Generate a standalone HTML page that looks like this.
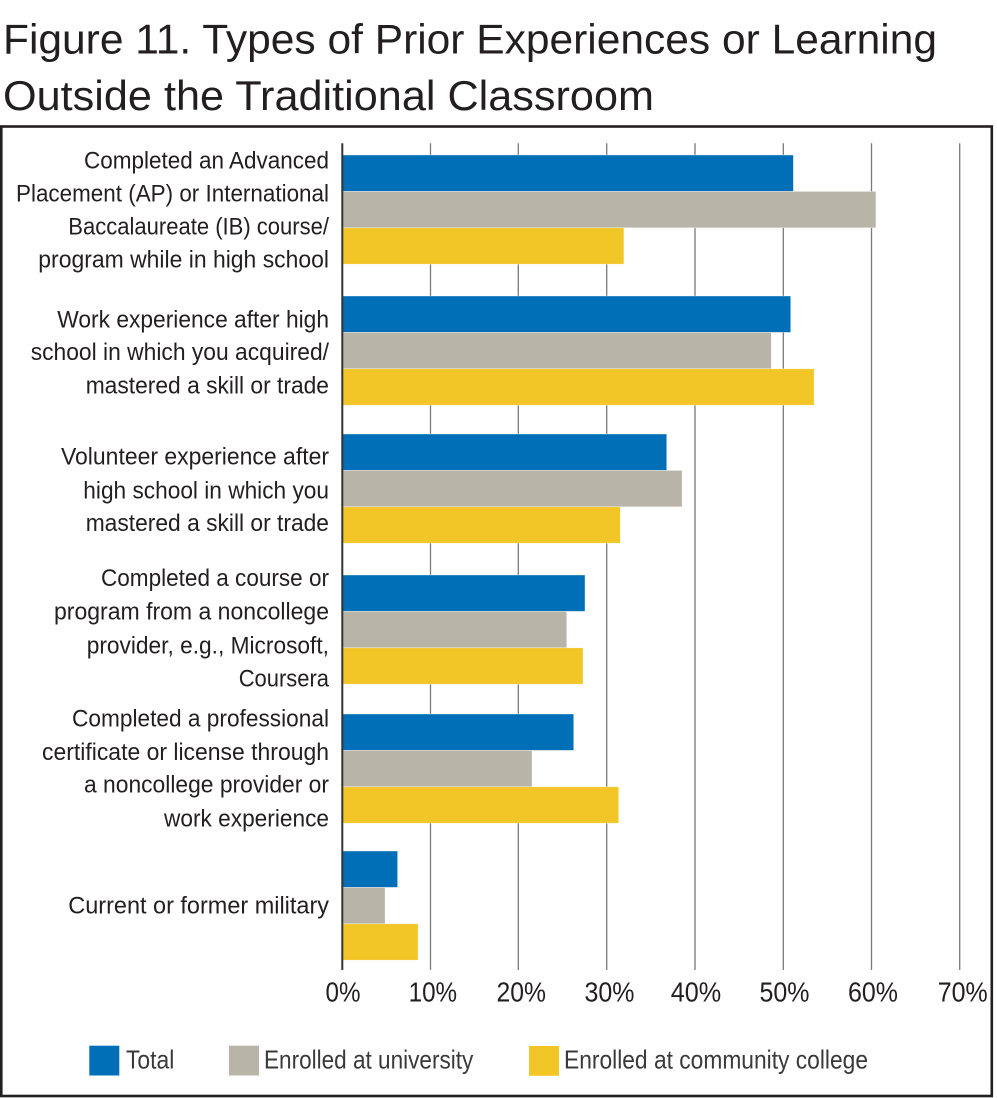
<!DOCTYPE html>
<html>
<head>
<meta charset="utf-8">
<style>
  html, body { margin: 0; padding: 0; background: #ffffff; }
  body { width: 997px; height: 1098px; overflow: hidden; }
  svg { display: block; }
  text { font-family: "Liberation Sans", "DejaVu Sans", sans-serif; }
</style>
</head>
<body>
<svg width="997" height="1098" viewBox="0 0 997 1098" xmlns="http://www.w3.org/2000/svg">
  <rect x="0" y="0" width="997" height="1098" fill="#ffffff"/>

  <!-- Title -->
  <text x="3" y="53.3" font-size="42" fill="#231f20" textLength="934" lengthAdjust="spacingAndGlyphs">Figure 11. Types of Prior Experiences or Learning</text>
  <text x="3" y="110" font-size="42" fill="#231f20" textLength="651" lengthAdjust="spacingAndGlyphs">Outside the Traditional Classroom</text>

  <!-- Frame -->
  <rect x="1.3" y="126.5" width="990.5" height="969.5" fill="none" stroke="#231f20" stroke-width="2.6"/>

  <!-- Gridlines -->
  <g stroke="#7a7a7a" stroke-width="1.3">
    <line x1="430.5" y1="143.3" x2="430.5" y2="970"/>
    <line x1="518.3" y1="143.3" x2="518.3" y2="970"/>
    <line x1="606.7" y1="143.3" x2="606.7" y2="970"/>
    <line x1="695" y1="143.3" x2="695" y2="970"/>
    <line x1="783.3" y1="143.3" x2="783.3" y2="970"/>
    <line x1="871.5" y1="143.3" x2="871.5" y2="970"/>
    <line x1="959.7" y1="143.3" x2="959.7" y2="970"/>
  </g>

  <!-- Bars: x = 342.3 + v*8.827 -->
  <g stroke="#ffffff" stroke-width="0.6" stroke-opacity="0.6">
    <!-- G1 -->
    <rect x="342.3" y="155" width="451.1" height="36.4" fill="#006fb8"/>
    <rect x="342.3" y="191.4" width="533.6" height="36.4" fill="#b8b5a8"/>
    <rect x="342.3" y="227.8" width="281.6" height="36.4" fill="#f3c627"/>
    <!-- G2 -->
    <rect x="342.3" y="296" width="448.4" height="36.4" fill="#006fb8"/>
    <rect x="342.3" y="332.4" width="429.0" height="36.4" fill="#b8b5a8"/>
    <rect x="342.3" y="368.8" width="471.8" height="36.4" fill="#f3c627"/>
    <!-- G3 -->
    <rect x="342.3" y="434" width="324.4" height="36.4" fill="#006fb8"/>
    <rect x="342.3" y="470.4" width="339.8" height="36.4" fill="#b8b5a8"/>
    <rect x="342.3" y="506.8" width="278.0" height="36.4" fill="#f3c627"/>
    <!-- G4 -->
    <rect x="342.3" y="575" width="242.7" height="36.4" fill="#006fb8"/>
    <rect x="342.3" y="611.4" width="224.4" height="36.4" fill="#b8b5a8"/>
    <rect x="342.3" y="647.8" width="240.7" height="36.4" fill="#f3c627"/>
    <!-- G5 -->
    <rect x="342.3" y="714" width="231.4" height="36.4" fill="#006fb8"/>
    <rect x="342.3" y="750.4" width="189.7" height="36.4" fill="#b8b5a8"/>
    <rect x="342.3" y="786.8" width="276.4" height="36.4" fill="#f3c627"/>
    <!-- G6 -->
    <rect x="342.3" y="851" width="55.3" height="36.4" fill="#006fb8"/>
    <rect x="342.3" y="887.4" width="42.8" height="36.4" fill="#b8b5a8"/>
    <rect x="342.3" y="923.8" width="75.8" height="36.4" fill="#f3c627"/>
  </g>

  <!-- Axis line -->
  <line x1="342.3" y1="143.3" x2="342.3" y2="970" stroke="#333333" stroke-width="2"/>

  <!-- Category labels -->
  <g font-size="24.5" fill="#231f20">
    <text x="84" y="168.3" textLength="245" lengthAdjust="spacingAndGlyphs">Completed an Advanced</text>
    <text x="16" y="201.5" textLength="313" lengthAdjust="spacingAndGlyphs">Placement (AP) or International</text>
    <text x="68.3" y="234.5" textLength="260.7" lengthAdjust="spacingAndGlyphs">Baccalaureate (IB) course/</text>
    <text x="38.3" y="267.3" textLength="290.7" lengthAdjust="spacingAndGlyphs">program while in high school</text>

    <text x="57.3" y="327.3" textLength="271.7" lengthAdjust="spacingAndGlyphs">Work experience after high</text>
    <text x="30.7" y="360" textLength="298.3" lengthAdjust="spacingAndGlyphs">school in which you acquired/</text>
    <text x="85.7" y="393.3" textLength="243.3" lengthAdjust="spacingAndGlyphs">mastered a skill or trade</text>

    <text x="61" y="464.3" textLength="268" lengthAdjust="spacingAndGlyphs">Volunteer experience after</text>
    <text x="83.3" y="498.3" textLength="245.7" lengthAdjust="spacingAndGlyphs">high school in which you</text>
    <text x="85.7" y="531" textLength="243.3" lengthAdjust="spacingAndGlyphs">mastered a skill or trade</text>

    <text x="101" y="586" textLength="228" lengthAdjust="spacingAndGlyphs">Completed a course or</text>
    <text x="54" y="619.3" textLength="275" lengthAdjust="spacingAndGlyphs">program from a noncollege</text>
    <text x="86.7" y="653.3" textLength="242.3" lengthAdjust="spacingAndGlyphs">provider, e.g., Microsoft,</text>
    <text x="238.7" y="686.7" textLength="90.3" lengthAdjust="spacingAndGlyphs">Coursera</text>

    <text x="72" y="726.7" textLength="257" lengthAdjust="spacingAndGlyphs">Completed a professional</text>
    <text x="42" y="760" textLength="287" lengthAdjust="spacingAndGlyphs">certificate or license through</text>
    <text x="84" y="792.7" textLength="245" lengthAdjust="spacingAndGlyphs">a noncollege provider or</text>
    <text x="164" y="826.7" textLength="165" lengthAdjust="spacingAndGlyphs">work experience</text>

    <text x="68.3" y="913.3" textLength="260.7" lengthAdjust="spacingAndGlyphs">Current or former military</text>
  </g>

  <!-- Tick labels -->
  <g font-size="28" fill="#231f20">
    <text x="325.5" y="1001.7" textLength="35" lengthAdjust="spacingAndGlyphs">0%</text>
    <text x="408.6" y="1001.7" textLength="48.5" lengthAdjust="spacingAndGlyphs">10%</text>
    <text x="496.5" y="1001.7" textLength="49.5" lengthAdjust="spacingAndGlyphs">20%</text>
    <text x="584.5" y="1001.7" textLength="50" lengthAdjust="spacingAndGlyphs">30%</text>
    <text x="670.7" y="1001.7" textLength="50.5" lengthAdjust="spacingAndGlyphs">40%</text>
    <text x="759.5" y="1001.7" textLength="50" lengthAdjust="spacingAndGlyphs">50%</text>
    <text x="848" y="1001.7" textLength="50" lengthAdjust="spacingAndGlyphs">60%</text>
    <text x="937.7" y="1001.7" textLength="50" lengthAdjust="spacingAndGlyphs">70%</text>
  </g>

  <!-- Legend -->
  <rect x="89.3" y="1045.7" width="30" height="29.8" fill="#006fb8"/>
  <text x="126" y="1068.3" font-size="26" fill="#3a3a3a" textLength="48.3" lengthAdjust="spacingAndGlyphs">Total</text>
  <rect x="229" y="1045.7" width="30" height="29.8" fill="#b8b5a8"/>
  <text x="264" y="1068.3" font-size="26" fill="#3a3a3a" textLength="209.3" lengthAdjust="spacingAndGlyphs">Enrolled at university</text>
  <rect x="529" y="1046" width="30" height="29.8" fill="#f3c627"/>
  <text x="564" y="1068.3" font-size="26" fill="#3a3a3a" textLength="304" lengthAdjust="spacingAndGlyphs">Enrolled at community college</text>
</svg>
</body>
</html>
